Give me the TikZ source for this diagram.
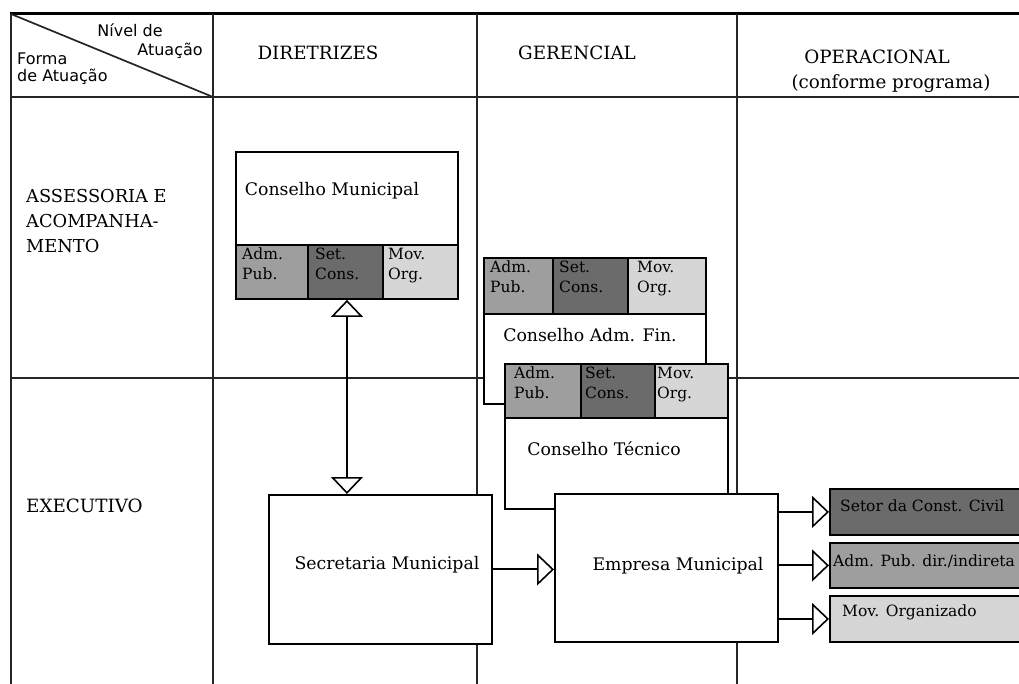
\documentclass[tikz,border=0pt]{standalone}
\usepackage{fontspec}
\setmainfont{DejaVu Serif}
\newfontfamily\cornerfont{DejaVu Sans}
\usetikzlibrary{arrows.meta}
\begin{document}
\begin{tikzpicture}[x=1pt,y=-1pt,
  grid/.style={line width=1.7pt, black!85},
  box/.style={draw, fill=white, line width=1.9pt, inner sep=0pt, anchor=north west},
  cell/.style={draw, line width=1.6pt, inner sep=0pt, anchor=north west},
  dark/.style={fill=black!58},
  mid/.style={fill=black!38},
  light/.style={fill=black!16},
  title/.style={font=\fontsize{17.3}{20}\selectfont, inner sep=0pt},
  head/.style={font=\fontsize{18.3}{21}\selectfont, inner sep=0pt},
  corner/.style={font=\cornerfont\fontsize{16}{19}\selectfont, inner sep=0pt},
  small/.style={font=\fontsize{15.5}{20}\selectfont, align=left, anchor=north west, inner sep=0pt},
  rlabel/.style={font=\fontsize{15.5}{18}\selectfont, anchor=west, inner sep=0pt},
  tipo/.tip={Triangle[open, length=17pt, width=32pt, line width=1.6pt]},
  arr/.style={line width=2pt, -tipo},
]
\useasboundingbox (0,0) rectangle (1019,684);
\clip (0,0) rectangle (1019,684);

% table
\draw[line width=3pt] (10,14) -- (1019,14);
\draw[grid] (11,14) -- (11,684);
\draw[grid] (213,14) -- (213,684);
\draw[grid] (477,14) -- (477,684);
\draw[grid] (737,14) -- (737,684);
\draw[grid] (11,97) -- (1019,97);
\draw[grid] (11,378) -- (1019,378);
\draw[grid] (11,14) -- (213,97);

% corner texts
\node[corner] (niv) at (130,30) {Nível de};
\node[corner] (atu) at (170,51) {Atuação};
\node[corner, anchor=west] (forma) at (17,59) {Forma};
\node[corner, anchor=west] (deatu) at (17,77) {de Atuação};

% headers
\node[head] (dir) at (318,53) {DIRETRIZES};
\node[head] (ger) at (577,53) {GERENCIAL};
\node[head] (oper) at (877,57) {OPERACIONAL};
\node[head] (conf) at (891,84) {(conforme programa)};

% row labels
\node[head, anchor=north west, align=left, font=\fontsize{17.8}{25}\selectfont] (ass) at (26,189) {ASSESSORIA E\\ACOMPANHA-\\MENTO};
\node[head, anchor=west] (exe) at (26,506) {EXECUTIVO};

% Conselho Municipal
\node[box, minimum width=222pt, minimum height=147pt] (cm) at (235,151) {};
\node[cell, mid, minimum width=72pt, minimum height=54pt] (cm1) at (235,244) {};
\node[cell, dark, minimum width=75pt, minimum height=54pt] (cm2) at (307,244) {};
\node[cell, light, minimum width=75pt, minimum height=54pt] (cm3) at (382,244) {};
\node[title] (cmt) at (332,191) {Conselho Municipal};
\node[small] (cm1t) at (242,248) {Adm.\\Pub.};
\node[small] (cm2t) at (315,248) {Set.\\Cons.};
\node[small] (cm3t) at (388,248) {Mov.\\Org.};

% Conselho Adm. Fin.
\node[box, minimum width=222pt, minimum height=146pt] (af) at (483,257) {};
\node[cell, mid, minimum width=69pt, minimum height=56pt] (af1) at (483,257) {};
\node[cell, dark, minimum width=75pt, minimum height=56pt] (af2) at (552,257) {};
\node[cell, light, minimum width=78pt, minimum height=56pt] (af3) at (627,257) {};
\node[title] (aft) at (590,335) {Conselho Adm. Fin.};
\node[small] (af1t) at (490,261) {Adm.\\Pub.};
\node[small] (af2t) at (559,261) {Set.\\Cons.};
\node[small] (af3t) at (637,261) {Mov.\\Org.};

% Conselho Tecnico
\node[box, minimum width=223pt, minimum height=145pt] (ct) at (504,363) {};
\node[cell, mid, minimum width=76pt, minimum height=54pt] (ct1) at (504,363) {};
\node[cell, dark, minimum width=74pt, minimum height=54pt] (ct2) at (580,363) {};
\node[cell, light, minimum width=73pt, minimum height=54pt] (ct3) at (654,363) {};
\node[title] (ctt) at (604,449) {Conselho Técnico};
\node[small] (ct1t) at (514,367) {Adm.\\Pub.};
\node[small] (ct2t) at (585,367) {Set.\\Cons.};
\node[small] (ct3t) at (657,367) {Mov.\\Org.};

% Secretaria and Empresa
\node[box, minimum width=223pt, minimum height=149pt] (sec) at (268,494) {};
\node[title] (sect) at (387,565) {Secretaria Municipal};
\node[box, minimum width=223pt, minimum height=148pt] (emp) at (554,493) {};
\node[title] (empt) at (678,566) {Empresa Municipal};

% right boxes
\node[box, dark, minimum width=230pt, minimum height=46pt] (r1) at (829,488) {};
\node[box, mid, minimum width=230pt, minimum height=45pt] (r2) at (829,542) {};
\node[box, light, minimum width=230pt, minimum height=46pt] (r3) at (829,595) {};
\node[rlabel] (r1t) at (840,506) {Setor da Const. Civil};
\node[rlabel] (r2t) at (833,561) {Adm. Pub. dir./indireta};
\node[rlabel] (r3t) at (842,612) {Mov. Organizado};

% connectors
\draw[line width=1.8pt, tipo-tipo] (cm.south) -- (cm.south |- sec.north);
\draw[arr] (sec.east) -- (sec.east -| emp.west);
\draw[arr] (r1.west -| emp.east) -- (r1.west);
\draw[arr] (r2.west -| emp.east) -- (r2.west);
\draw[arr] (r3.west -| emp.east) -- (r3.west);
\end{tikzpicture}
\end{document}
